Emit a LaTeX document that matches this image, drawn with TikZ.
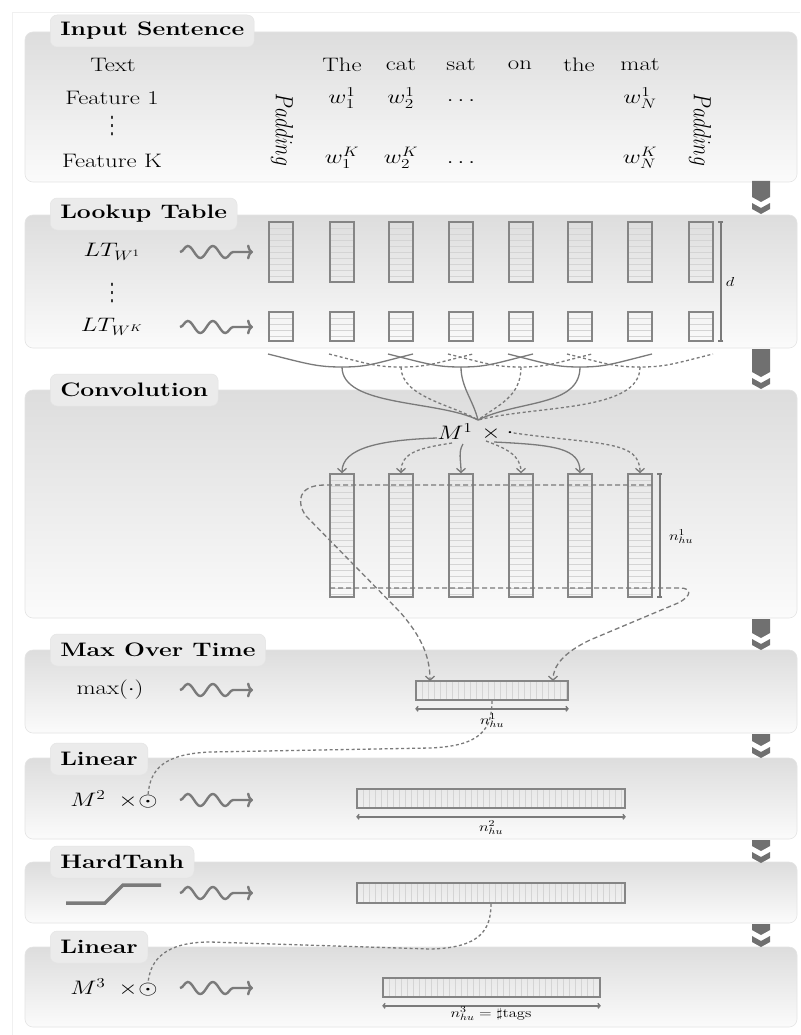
\RequirePackage{fix-cm}
\documentclass[tikz,border=0pt]{standalone}
\usepackage{fontspec}
\usepackage{graphicx}
\usetikzlibrary{arrows.meta,decorations.pathmorphing,calc}
\newfontfamily\djv{DejaVu Sans}
\definecolor{lg}{HTML}{7A7A7A}
\definecolor{boxc}{HTML}{858585}
\definecolor{strc}{HTML}{D4D4D4}
\definecolor{pantop}{HTML}{DDDDDD}
\definecolor{panbot}{HTML}{FBFBFB}
\definecolor{panedge}{HTML}{E4E4E4}
\definecolor{tabc}{HTML}{EBEBEB}
\definecolor{chevc}{HTML}{707070}
\newcommand{\hs}[1]{\scalebox{1.27}[1]{#1}}
\newcommand{\vs}[1]{\scalebox{1}[1.27]{#1}}
\newcommand{\myvdots}{{\djv\fontsize{15}{17}\selectfont\scalebox{1}[1.6]{⋮}}}
\newcommand{\mychev}[2]{%
  \fill[chevc] (752,#1) -- (770,#1) -- (770,#2-5) -- (761,#2) -- (752,#2-5) -- cycle;
  \fill[chevc] (752,#2+1) -- (761,#2+6) -- (770,#2+1) -- (770,#2+7) -- (761,#2+12) -- (752,#2+7) -- cycle;}
\newcommand{\mypanel}[2]{%
  \shade[top color=pantop,bottom color=panbot,draw=panedge,line width=0.6pt,rounded corners=8pt] (25,#1) rectangle (797,#2);}
\begin{document}
\begin{tikzpicture}[x=1pt,y=-1pt,
  lab/.style={font=\fontsize{19.5}{23}\selectfont, inner sep=0pt},
  tablab/.style={font=\fontsize{19.5}{23}\selectfont\bfseries, fill=tabc, draw=panedge, line width=0.5pt,
    rounded corners=7pt, inner xsep=10pt, inner ysep=0pt, minimum height=32pt, anchor=west},
  small/.style={font=\fontsize{13}{15}\selectfont, inner sep=0pt},
  hstripes/.style={path picture={\foreach \k in {1,...,40}{\draw[strc,line width=0.5pt]
      ([yshift=-\k*6pt]path picture bounding box.north west) -- ([yshift=-\k*6pt]path picture bounding box.north east);}}},
  vstripes/.style={path picture={\foreach \k in {1,...,60}{\draw[strc,line width=0.5pt]
      ([xshift=\k*6pt]path picture bounding box.north west) -- ([xshift=\k*6pt]path picture bounding box.south west);}}},
  vbox/.style={draw=boxc, line width=1.6pt, minimum width=24pt, inner sep=0pt, hstripes},
  hbox/.style={draw=boxc, line width=1.6pt, minimum height=19pt, inner sep=0pt, vstripes},
  solidc/.style={draw=lg, line width=1.3pt},
  dashc/.style={draw=lg, line width=1.3pt, dash pattern=on 3pt off 2.5pt},
  sweep/.style={draw=lg, line width=1.3pt, dash pattern=on 5pt off 3pt},
  arr/.style={-{Straight Barb[length=4pt,width=9pt]}},
  vdim/.style={draw=lg, line width=1.4pt, {Bar[width=5pt]}-{Bar[width=5pt]}},
  hdim/.style={draw=lg, line width=1.4pt, {Straight Barb[length=2pt,width=5pt]}-{Straight Barb[length=2pt,width=5pt]}},
  wavy/.style={draw=lg, line width=2.4pt, -{To[length=6pt,width=15pt]}, decorate,
    decoration={snake, amplitude=6pt, segment length=25pt, post length=13pt}}
]
\useasboundingbox (0,0) rectangle (800,1035);
\fill[white] (0,0) rectangle (800,1035);
\draw[gray!12, line width=0.8pt] (12,1035) -- (12,12) -- (800,12);

% panels
\mypanel{32}{182}
\mypanel{215}{348}
\mypanel{390}{618}
\mypanel{650}{733}
\mypanel{758}{839}
\mypanel{862}{923}
\mypanel{947}{1027}

% tabs
\node[tablab] (tab1) at (50,31) {\hs{Input Sentence}};
\node[tablab] (tab2) at (50,214) {\hs{Lookup Table}};
\node[tablab] (tab3) at (50,390) {\hs{Convolution}};
\node[tablab] (tab4) at (50,650) {\hs{Max Over Time}};
\node[tablab] (tab5) at (50,759) {\hs{Linear}};
\node[tablab] (tab6) at (50,862) {\hs{HardTanh}};
\node[tablab] (tab7) at (50,947) {\hs{Linear}};

% chevrons
\mychev{181}{202}
\mychev{349}{377}
\mychev{619}{638}
\mychev{734}{746}
\mychev{840}{851}
\mychev{924}{935}

% ---- Input sentence
\node[lab] (txt) at (113,65) {\hs{Text}};
\node[lab] (f1) at (112,98) {\hs{Feature 1}};
\node[lab] (fd) at (112,126) {\myvdots};
\node[lab] (fK) at (112,161) {\hs{Feature K}};
\node[lab, rotate=-90] (padl) at (282,130) {\vs{$Padding$}};
\node[lab, rotate=-90] (padr) at (700,130) {\vs{$Padding$}};
\node[lab] (wThe) at (342,65) {\hs{The}};
\node[lab] (wcat) at (401,65) {\hs{cat}};
\node[lab] (wsat) at (461,65) {\hs{sat}};
\node[lab] (won) at (520,65) {\hs{on}};
\node[lab] (wthe) at (579,65) {\hs{the}};
\node[lab] (wmat) at (640,65) {\hs{mat}};
\node[lab] (a11) at (342,98) {\hs{$w^1_1$}};
\node[lab] (a12) at (401,98) {\hs{$w^1_2$}};
\node[lab] (a1d) at (461,101) {\hs{$\dots$}};
\node[lab] (a1N) at (640,98) {\hs{$w^1_N$}};
\node[lab] (aK1) at (342,158) {\hs{$w^K_1$}};
\node[lab] (aK2) at (401,158) {\hs{$w^K_2$}};
\node[lab] (aKd) at (461,163) {\hs{$\dots$}};
\node[lab] (aKN) at (640,158) {\hs{$w^K_N$}};

% ---- Lookup table
\node[lab] (lt1) at (112,252) {\hs{$LT_{W^1}$}};
\node[lab] (ltd) at (112,293) {\myvdots};
\node[lab] (ltK) at (112,327) {\hs{$LT_{W^K}$}};
\coordinate (wa1) at (180,252); \coordinate (wb1) at (253,252);
\coordinate (wa2) at (180,327); \coordinate (wb2) at (253,327);
\draw[wavy] (wa1) -- (wb1);
\draw[wavy] (wa2) -- (wb2);
\foreach \i/\x in {1/281,2/342,3/401,4/461,5/521,6/580,7/640,8/701}{
  \node[vbox, minimum height=60pt] (t\i) at (\x,252) {};
  \node[vbox, minimum height=29pt] (b\i) at (\x,326.5) {};
}
\draw[vdim] ([xshift=7pt]t8.north east) -- ([xshift=7pt]b8.south east);
\node[small] (dlab) at (730,282) {\hs{$d$}};

% ---- windows
\foreach \k/\l/\d/\r in {1/268/342/413, 2/329/401/473, 3/388/461/533, 4/448/521/592, 5/508/580/652, 6/567/640/713}{
  \coordinate (wl\k) at (\l,354); \coordinate (wd\k) at (\d,367); \coordinate (wr\k) at (\r,354);}
\draw[solidc] (wl1) .. controls +(40,10) and +(-25,0) .. (wd1) .. controls +(25,0) and +(-40,10) .. (wr1);
\draw[dashc]  (wl2) .. controls +(40,10) and +(-25,0) .. (wd2) .. controls +(25,0) and +(-40,10) .. (wr2);
\draw[solidc] (wl3) .. controls +(40,10) and +(-25,0) .. (wd3) .. controls +(25,0) and +(-40,10) .. (wr3);
\draw[dashc]  (wl4) .. controls +(40,10) and +(-25,0) .. (wd4) .. controls +(25,0) and +(-40,10) .. (wr4);
\draw[solidc] (wl5) .. controls +(40,10) and +(-25,0) .. (wd5) .. controls +(25,0) and +(-40,10) .. (wr5);
\draw[dashc]  (wl6) .. controls +(40,10) and +(-25,0) .. (wd6) .. controls +(25,0) and +(-40,10) .. (wr6);

% ---- Convolution
\node[lab] (M1) at (455,432) {\hs{$M^1$}};
\node[lab] (tm1) at (491,434) {\hs{$\times$}};
\node[lab] (dt1) at (510,433) {\hs{$\cdot$}};
\coordinate (conv) at (478,420);
\draw[solidc] (wd1) .. controls +(0,40) and +(-40,-20) .. (conv);
\draw[dashc]  (wd2) .. controls +(0,30) and +(-25,-15) .. (conv);
\draw[solidc] (wd3) .. controls +(0,20) and +(-5,-20) .. (conv);
\draw[dashc]  (wd4) .. controls +(0,30) and +(20,-15) .. (conv);
\draw[solidc] (wd5) .. controls +(0,40) and +(40,-20) .. (conv);
\draw[dashc]  (wd6) .. controls +(0,45) and +(60,-15) .. (conv);

\foreach \i/\x in {1/342,2/401,3/461,4/521,5/580,6/640}
  \node[vbox, minimum height=123pt] (c\i) at (\x,535.5) {};
\draw[vdim] ([xshift=7pt]c6.north east) -- ([xshift=7pt]c6.south east);
\node[small] (nl1) at (681,537) {\hs{$n^1_{hu}$}};

\coordinate (s1) at (437,438);
\coordinate (s2) at (452,443);
\coordinate (s3) at (463,444);
\coordinate (s4) at (486,441);
\coordinate (s5) at (494,442);
\draw[solidc,arr] (s1) .. controls (380,440) and (342,448) .. (c1.north);
\draw[dashc,arr]  (s2) .. controls (420,448) and (401,452) .. (c2.north);
\draw[solidc,arr] (s3) .. controls (458,452) and (461,460) .. (c3.north);
\draw[dashc,arr]  (s4) .. controls (505,448) and (521,455) .. (c4.north);
\draw[solidc,arr] (s5) .. controls (555,445) and (580,448) .. (c5.north);
\draw[dashc,arr]  (dt1.east) .. controls (600,445) and (640,440) .. (c6.north);

% ---- Max over time
\node[lab] (mxt) at (110,690) {\hs{$\max(\cdot)$}};
\coordinate (wa3) at (180,690); \coordinate (wb3) at (253,690);
\draw[wavy] (wa3) -- (wb3);
\node[hbox, minimum width=152pt] (mx) at (492,690.5) {};
\draw[hdim] ([yshift=-8pt]mx.south west) -- ([yshift=-8pt]mx.south east);
\node[small] (mxl) at (492,721) {\hs{$n^1_{hu}$}};

\coordinate (tr) at (652,485);
\coordinate (tl) at (325,485);
\coordinate (bl) at (330,588);
\coordinate (br) at (680,588);
\coordinate (ma) at (430,681);
\coordinate (mb) at (553,681);
\draw[sweep,arr] (tr) -- (tl) .. controls (298,485) and (296,502) .. (306,516) -- (400,612) .. controls (420,635) and (430,655) .. (ma);
\draw[sweep,arr] (bl) -- (br) .. controls (692,588) and (692,596) .. (678,603) -- (590,640) .. controls (565,652) and (553,665) .. (mb);

% ---- Linear 1
\node[lab] (M2) at (88,799) {\hs{$M^2$}};
\node[lab] (tm2) at (128,802) {\hs{$\times$}};
\node[lab] (o2) at (148,802) {\hs{$\odot$}};
\coordinate (wa4) at (180,800); \coordinate (wb4) at (253,800);
\draw[wavy] (wa4) -- (wb4);
\node[hbox, minimum width=268pt] (l1) at (491,798.5) {};
\draw[hdim] ([yshift=-8pt]l1.south west) -- ([yshift=-8pt]l1.south east);
\node[small] (l1l) at (491,828) {\hs{$n^2_{hu}$}};
\draw[dashc] (mx.south) .. controls (492,730) and (480,746) .. (430,748) -- (210,752) .. controls (165,754) and (150,768) .. (o2.north);

% ---- HardTanh
\draw[lg, line width=3.5pt] (66,903) -- (105,903) -- (123,885) -- (161,885);
\coordinate (wa5) at (180,893); \coordinate (wb5) at (253,893);
\draw[wavy] (wa5) -- (wb5);
\node[hbox, minimum width=268pt, minimum height=20pt] (hb) at (491,893) {};

% ---- Linear 2
\node[lab] (M3) at (88,987) {\hs{$M^3$}};
\node[lab] (tm3) at (128,990) {\hs{$\times$}};
\node[lab] (o3) at (148,990) {\hs{$\odot$}};
\coordinate (wa6) at (180,988); \coordinate (wb6) at (253,988);
\draw[wavy] (wa6) -- (wb6);
\node[hbox, minimum width=217pt] (l2) at (491.5,987.5) {};
\draw[hdim] ([yshift=-8pt]l2.south west) -- ([yshift=-8pt]l2.south east);
\node[small] (l2l) at (491,1014) {\hs{$n^3_{hu}=\sharp$tags}};
\draw[dashc] (hb.south) .. controls (491,930) and (480,948) .. (430,949) -- (210,942) .. controls (165,942) and (150,960) .. (o3.north);
\end{tikzpicture}
\end{document}
